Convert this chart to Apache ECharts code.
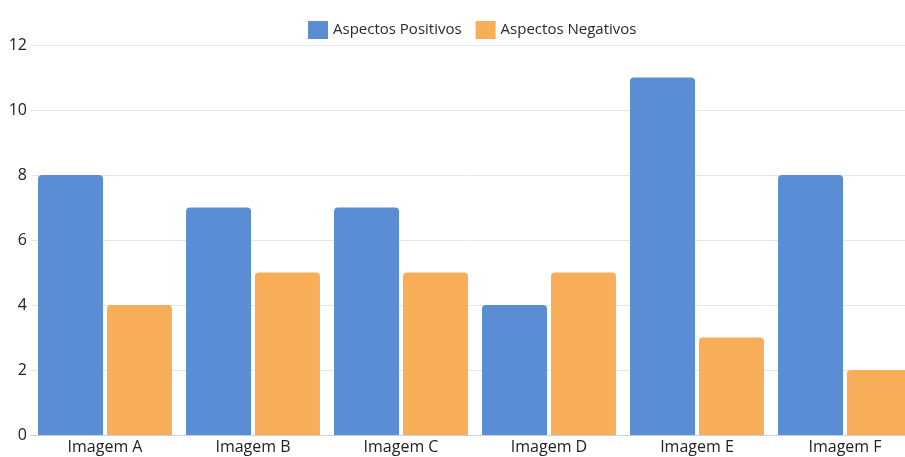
<!DOCTYPE html>
<html>
<head>
<meta charset="utf-8">
<script src="https://cdn.jsdelivr.net/npm/echarts@6/dist/echarts.min.js"></script>
<style>
  html, body { margin: 0; padding: 0; background: #fff; }
  #chart { width: 905px; height: 457px; }
</style>
</head>
<body>
<div id="chart"></div>
<script>
const categories = ['Imagem A', 'Imagem B', 'Imagem C', 'Imagem D', 'Imagem E', 'Imagem F'];
const positivos = [8, 7, 7, 4, 11, 8];
const negativos = [4, 5, 5, 5, 3, 2];
const yTicks = { min: 0, max: 12, interval: 2 };

const font = '"Open Sans", "Noto Sans", sans-serif';
const chart = echarts.init(document.getElementById('chart'), null, { renderer: 'canvas' });

chart.setOption({
  animation: false,
  textStyle: { fontFamily: font },
  legend: {
    top: 16,
    left: 303,
    itemWidth: 20,
    itemHeight: 18,
    itemGap: 14,
    icon: 'rect',
    textStyle: { fontSize: 15, color: '#2a2a2a', fontFamily: font }
  },
  // the plot runs a little past the right edge of the canvas
  grid: {
    left: 31, top: 45, width: 888, bottom: 22,
    containLabel: false,
    outerBoundsMode: 'none'
  },
  xAxis: {
    type: 'category',
    data: categories,
    axisTick: { show: false },
    axisLine: { lineStyle: { color: '#c8d2e0', width: 1 } },
    axisLabel: { fontSize: 16, color: '#222', margin: 4, fontFamily: font }
  },
  yAxis: {
    type: 'value',
    min: yTicks.min,
    max: yTicks.max,
    interval: yTicks.interval,
    axisLine: { show: false },
    axisTick: { show: false },
    splitLine: { lineStyle: { color: '#e6e6e6' } },
    axisLabel: { fontSize: 16, color: '#222', margin: 4, fontFamily: font }
  },
  series: [
    {
      name: 'Aspectos Positivos',
      type: 'bar',
      data: positivos,
      barGap: '6%',
      barCategoryGap: '9.5%',
      itemStyle: { color: '#5a8dd3', borderRadius: [4, 4, 0, 0] }
    },
    {
      name: 'Aspectos Negativos',
      type: 'bar',
      data: negativos,
      itemStyle: { color: '#f8ad58', borderRadius: [4, 4, 0, 0] }
    }
  ]
});
</script>
</body>
</html>
